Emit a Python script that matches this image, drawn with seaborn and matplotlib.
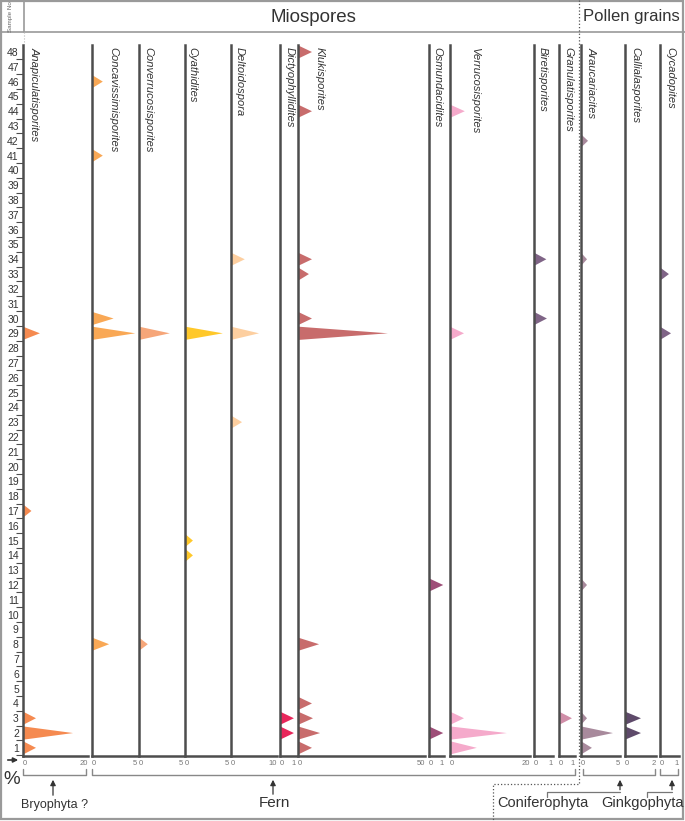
import numpy as np
import matplotlib.pyplot as plt
import seaborn as sns
from matplotlib.patches import Rectangle

sns.set_theme(style="white")
plt.rcParams['font.family'] = ['Liberation Sans', 'DejaVu Sans']

# sample numbers and abundances (%) per taxon: {sample: value}
samples = np.arange(1, 49)

anapiculatisporites = {29: 5.2, 17: 2.6, 3: 4.0, 2: 15.4, 1: 4.0}
concavissimisporites = {46: 1.2, 41: 1.2, 30: 2.4, 29: 4.8, 8: 1.9}
converrucosisporites = {29: 3.5, 8: 1.0}
cyathidites = {29: 4.3, 15: 0.9, 14: 0.9}
deltoidospora = {34: 3.0, 29: 6.1, 23: 2.4}
dictyophyllidites = {3: 0.87, 2: 0.87}
klukisporites = {48: 5.5, 44: 5.5, 34: 5.5, 33: 4.3, 30: 5.5, 29: 35.4,
                 8: 8.3, 4: 5.5, 3: 5.9, 2: 8.7, 1: 5.5}
osmundacidites = {12: 0.95, 2: 0.95}
verrucosisporites = {44: 3.7, 29: 3.5, 3: 3.5, 2: 14.2, 1: 6.7}
biretisporites = {34: 0.65, 30: 0.68}
granulatisporites = {3: 0.81}
araucariacites = {42: 0.9, 34: 0.77, 12: 0.77, 3: 0.77, 2: 4.1, 1: 1.4}
callialasporites = {3: 1.03, 2: 1.03}
cycadopites = {33: 0.47, 29: 0.58}

taxa = ["Anapiculatisporites", "Concavissimisporites", "Converrucosisporites",
        "Cyathidites", "Deltoidospora", "Dictyophyllidites", "Klukisporites",
        "Osmundacidites", "Verrucosisporites", "Biretisporites",
        "Granulatisporites", "Araucariacites", "Callialasporites", "Cycadopites"]
values = [anapiculatisporites, concavissimisporites, converrucosisporites,
          cyathidites, deltoidospora, dictyophyllidites, klukisporites,
          osmundacidites, verrucosisporites, biretisporites,
          granulatisporites, araucariacites, callialasporites, cycadopites]
scale_max = [20, 5, 5, 5, 10, 1, 50, 1, 20, 1, 1, 5, 2, 1]

colors = ["#F58A50", "#F9A855", "#F6A679", "#FFC82A", "#FDCFA0", "#E8275B",
          "#C86C6C", "#9E4E78", "#F5AACB", "#7F6486", "#D08EA8", "#A88A9C",
          "#5E4A6A", "#7F6486"]

# layout (pixels)
W, H = 685, 821
left_px = [23, 92, 139, 185, 231, 280, 298, 429, 450, 534, 559, 581, 625, 660]
right_px = [88, 137, 183, 229, 277, 296, 425, 444, 530, 553, 575, 620, 656, 679]
label_off = [7, 16, 4, 2, 4, 5, 17, 3, 20, 4, 4, 6, 5, 5]
top_px, bot_px = 44.6, 756
half = 0.45
line_col = "#4d4d4d"
frame_col = "#9a9a9a"
txt_col = "#333333"

fig = plt.figure(figsize=(W / 100, H / 100), dpi=100)

# overlay in pixel coordinates for frame, headers and group brackets
ov = fig.add_axes([0, 0, 1, 1], zorder=0)
ov.set_xlim(0, W)
ov.set_ylim(H, 0)
ov.axis("off")

ov.add_patch(Rectangle((1, 1), W - 2.5, H - 2.5, fill=False, ec=frame_col, lw=1.6))
ov.plot([0, W], [32, 32], color=frame_col, lw=1.2)
ov.plot([24, 24], [0, 32], color=frame_col, lw=1.2)
ov.plot([24, 24], [32, 44], color="#bbbbbb", lw=0.8, ls=":")
ov.text(11, 17, "Sample No", rotation=90, ha="center", va="center",
        fontsize=4.5, color="#666666")
ov.text(313, 17, "Miospores", ha="center", va="center", fontsize=13.5, color=txt_col)
ov.text(631, 17, "Pollen grains", ha="center", va="center", fontsize=12, color=txt_col)

# dotted divider miospores / pollen
ov.plot([579, 579, 493, 493], [0, 784, 784, H], ls=":", color="#555555", lw=0.9)

# taxon names
for name, x0, off in zip(taxa, left_px, label_off):
    ov.text(x0 + off, 47, name, rotation=270, ha="left", va="top",
            style="italic", fontsize=8, color=txt_col)

# "%" marker
ov.annotate("", xy=(21, 760), xytext=(5, 760),
            arrowprops=dict(arrowstyle="-|>", color=txt_col, lw=1.2, mutation_scale=7))
ov.text(12, 779, "%", ha="center", va="center", fontsize=13.5, color=txt_col)

# group brackets
def bracket(x0, x1, y=775):
    ov.plot([x0, x0, x1, x1], [769, y, y, 769], color="#888888", lw=1)

bracket(23, 86)
bracket(92, 575)
bracket(583, 655)
bracket(660, 678)

arrow = dict(arrowstyle="-|>", color=txt_col, lw=0.9, mutation_scale=8)
ov.annotate("", xy=(53, 777), xytext=(53, 798), arrowprops=arrow)
ov.text(55, 805, "Bryophyta ?", ha="center", va="center", fontsize=9, color=txt_col)
ov.annotate("", xy=(273, 777), xytext=(273, 797), arrowprops=arrow)
ov.text(274, 803, "Fern", ha="center", va="center", fontsize=11, color=txt_col)

ov.plot([547, 547, 620], [797, 792, 792], color="#777777", lw=0.9)
ov.annotate("", xy=(620, 777), xytext=(620, 792.5), arrowprops=arrow)
ov.text(543, 803, "Coniferophyta", ha="center", va="center", fontsize=10.5, color=txt_col)
ov.plot([647, 647, 672], [797, 792, 792], color="#777777", lw=0.9)
ov.annotate("", xy=(672, 777), xytext=(672, 792.5), arrowprops=arrow)
ov.text(643, 803, "Ginkgophyta", ha="center", va="center", fontsize=10.5, color=txt_col)

# panels
for i, (vals, xmax, c) in enumerate(zip(values, scale_max, colors)):
    x0, x1 = left_px[i], right_px[i]
    ax = fig.add_axes([x0 / W, 1 - bot_px / H, (x1 - x0) / W, (bot_px - top_px) / H],
                      zorder=2)
    ax.patch.set_alpha(0)
    for s, v in vals.items():
        ax.fill([0, v, 0], [s - half, s, s + half], color=c, lw=0)
    ax.set_xlim(0, xmax)
    ax.set_ylim(0.45, 48.5)
    sns.despine(ax=ax)
    for side in ("left", "bottom"):
        ax.spines[side].set_color(line_col)
        ax.spines[side].set_linewidth(1.8)

    ax.set_xticks([0, xmax])
    ax.set_xticklabels(["0", str(xmax)], fontsize=5.5, color="#777777")
    ax.get_xticklabels()[0].set_ha("left")
    ax.get_xticklabels()[1].set_ha("right")
    ax.tick_params(axis="x", length=0, pad=3)

    if i == 0:
        ax.set_yticks(samples)
        ax.set_yticklabels([str(s) for s in samples], fontsize=7.5, color=txt_col)
        ax.set_yticks(np.arange(0.5, 48.5, 1), minor=True)
        ax.tick_params(axis="y", which="major", length=0, pad=3)
        ax.tick_params(axis="y", which="minor", left=True, length=5,
                       width=0.8, color=line_col, direction="out")
    else:
        ax.set_yticks([])

fig.savefig("out.png", dpi=100)
